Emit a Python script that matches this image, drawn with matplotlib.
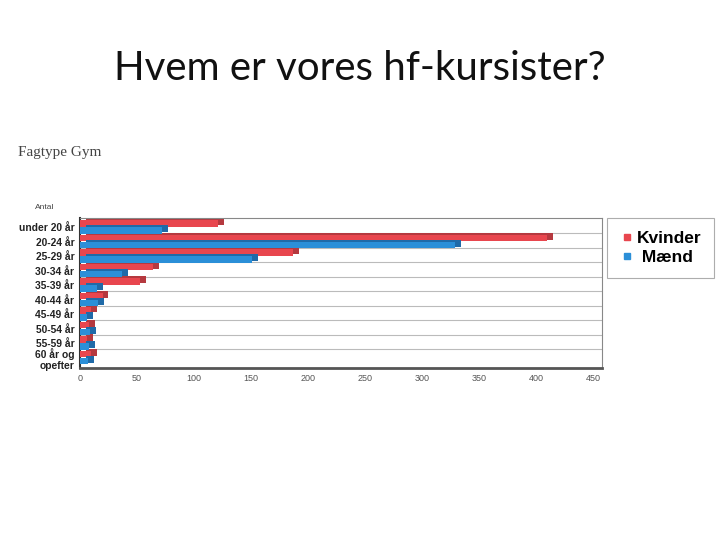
import numpy as np
import matplotlib.pyplot as plt
from matplotlib.lines import Line2D

# Data
kategorier = ["under 20 år", "20-24 år", "25-29 år", "30-34 år", "35-39 år",
              "40-44 år", "45-49 år", "50-54 år", "55-59 år", "60 år og\nopefter"]
kvinder = [121, 410, 187, 64, 53, 20, 10, 8, 6, 10]
maend = [72, 329, 151, 37, 15, 16, 6, 9, 8, 7]
xticks = [0, 50, 100, 150, 200, 250, 300, 350, 400, 450]

ROED = "#e8464e"
ROED_MOERK = "#b5393f"
BLAA = "#2b8fd8"
BLAA_MOERK = "#1f6aa8"

fig = plt.figure(figsize=(7.2, 5.4), dpi=100)
fig.patch.set_facecolor("white")

fig.text(0.5, 0.874, "Hvem er vores hf-kursister?", ha="center", va="center",
         fontsize=29, family="Lato", color="#111111")
fig.text(0.025, 0.717, "Fagtype Gym", ha="left", va="center",
         fontsize=11, family="Liberation Serif", color="#444444")
fig.text(0.049, 0.615, "Antal", ha="left", va="center",
         fontsize=6, family="Liberation Sans", color="#444444")

ax = fig.add_axes([80 / 720, 1 - 368 / 540, 522 / 720, 150 / 540])
y = np.arange(len(kategorier))
h = 0.46
dx, dy = 5, 0.12

# gridlines
for g in np.arange(len(kategorier) - 1) + 0.42:
    ax.axhline(g, color="#bbbbbb", lw=0.8, zorder=0)

# "3D" depth behind the bars
ax.barh(y - 0.24 - dy, kvinder, left=dx, height=h, color=ROED_MOERK, zorder=2)
ax.barh(y - 0.24, kvinder, height=h, color=ROED, zorder=3)
ax.barh(y + 0.24 - dy, maend, left=dx, height=h, color=BLAA_MOERK, zorder=4)
ax.barh(y + 0.24, maend, height=h, color=BLAA, zorder=5)

ax.set_xlim(0, 458)
ax.set_ylim(9.72, -0.62)
ax.set_xticks(xticks)
ax.set_xticklabels([str(t) for t in xticks], fontsize=6.5, color="#555555",
                   family="Liberation Sans")
ax.set_yticks(y)
labels = ax.set_yticklabels(kategorier, fontsize=7.4, family="Liberation Sans",
                            fontweight="bold", color="#222222", linespacing=0.95)
labels[-1].set_linespacing(1.15)
ax.tick_params(length=0, pad=4)
for s in ["top", "right"]:
    ax.spines[s].set_color("#888888")
    ax.spines[s].set_linewidth(0.8)
ax.spines["bottom"].set_color("#555555")
ax.spines["bottom"].set_linewidth(2)
ax.spines["left"].set_color("#333333")
ax.spines["left"].set_linewidth(1.5)

handles = [Line2D([], [], marker="s", ls="none", color=ROED, markersize=5),
           Line2D([], [], marker="s", ls="none", color=BLAA, markersize=5)]
leg = fig.legend(handles, ["Kvinder", " Mænd"], loc="upper left",
                 bbox_to_anchor=(607 / 720, 1 - 218 / 540), borderaxespad=0,
                 prop={"family": "Liberation Sans", "weight": "bold", "size": 12.5},
                 handletextpad=0.15, labelspacing=0.2, borderpad=0.75,
                 fancybox=False, handlelength=0.8)
leg.get_frame().set_edgecolor("#999999")
leg.get_frame().set_linewidth(0.8)

fig.savefig("out.png", dpi=100)
